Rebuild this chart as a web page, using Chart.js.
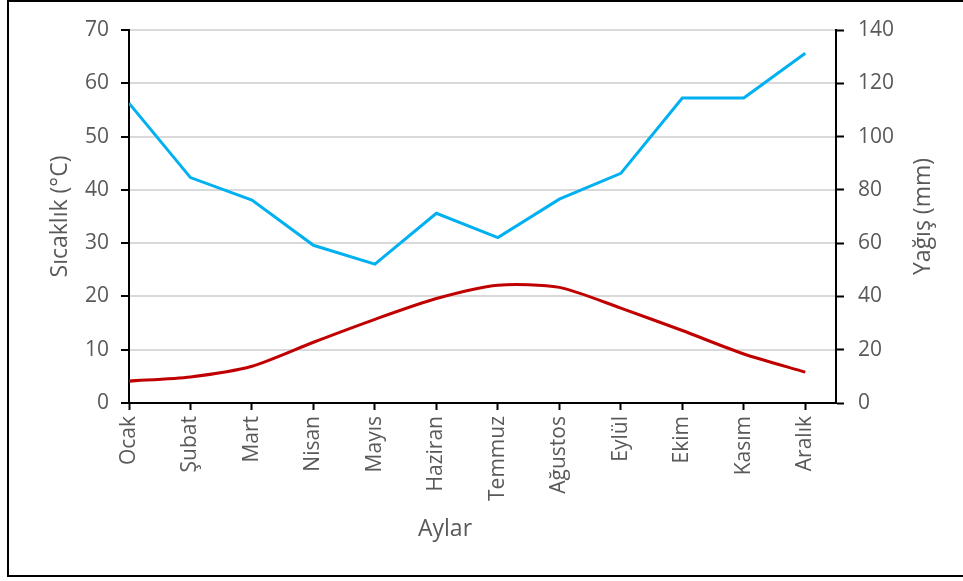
<!DOCTYPE html>
<html>
<head>
<meta charset="utf-8">
<script src="https://cdn.jsdelivr.net/npm/chart.js@4"></script>
<style>
  html, body { margin: 0; padding: 0; background: #fff; }
  #wrap { position: relative; width: 963px; height: 581px; overflow: hidden; }
  #frame { position: absolute; left: 7px; top: 0; width: 1000px; height: 577px;
           border: 2px solid #000; box-sizing: border-box; pointer-events: none; }
  canvas { position: absolute; left: 0; top: 0; }
</style>
</head>
<body>
<div id="wrap">
  <canvas id="grafik" width="963" height="581"></canvas>
  <div id="frame"></div>
</div>
<script>
// Aylar ve değerler
const aylar = ['Ocak', 'Şubat', 'Mart', 'Nisan', 'Mayıs', 'Haziran', 'Temmuz', 'Ağustos', 'Eylül', 'Ekim', 'Kasım', 'Aralık'];
const sicaklik = [4.1, 4.9, 6.9, 11.4, 15.7, 19.6, 22.1, 21.7, 17.8, 13.6, 9.2, 5.8];
const yagis = [112.5, 84.6, 76.2, 59.2, 52.1, 71.2, 62.1, 76.5, 86.2, 114.5, 114.5, 131.3];
const sicaklikTicks = [0, 10, 20, 30, 40, 50, 60, 70];
const yagisTicks = [0, 20, 40, 60, 80, 100, 120, 140];

const gri = '#595959';
const font = { family: 'Open Sans', size: 21 };

// Eksen başlıkları (Excel'deki gibi konumlandırıldı)
const basliklar = {
  id: 'basliklar',
  afterDraw(chart) {
    const ctx = chart.ctx;
    const a = chart.chartArea;
    ctx.save();
    ctx.fillStyle = gri;
    ctx.font = '23px "Open Sans"';
    ctx.textAlign = 'center';
    ctx.textBaseline = 'middle';
    const orta = (a.top + a.bottom) / 2;
    ctx.save();
    ctx.translate(60, orta);
    ctx.rotate(-Math.PI / 2);
    ctx.fillText('Sıcaklık (°C)', 0, 0);
    ctx.restore();
    ctx.save();
    ctx.translate(923, orta);
    ctx.rotate(-Math.PI / 2);
    ctx.fillText('Yağış (mm)', 0, 0);
    ctx.restore();
    ctx.fillText('Aylar', 445, 529);
    ctx.restore();
  }
};

const ctx = document.getElementById('grafik').getContext('2d');
new Chart(ctx, {
  type: 'line',
  data: {
    datasets: [{
      label: 'Yağış (mm)',
      data: yagis.map((v, i) => ({ x: i, y: v })),
      yAxisID: 'y1',
      borderColor: '#00B0F0',
      borderWidth: 3,
      pointRadius: 0,
      tension: 0
    }, {
      label: 'Sıcaklık (°C)',
      data: sicaklik.map((v, i) => ({ x: i, y: v })),
      yAxisID: 'y',
      borderColor: '#C00000',
      borderWidth: 3,
      pointRadius: 0,
      tension: 0.25
    }]
  },
  options: {
    responsive: false,
    animation: false,
    layout: { padding: { top: 30, left: 0, right: 0, bottom: 0 } },
    plugins: { legend: { display: false }, tooltip: { enabled: false } },
    scales: {
      x: {
        type: 'linear',
        min: 0,
        max: 11.5,
        afterBuildTicks: s => { s.ticks = aylar.map((_, i) => ({ value: i })); },
        afterFit: s => { s.height = 178; },
        grid: { drawOnChartArea: false, drawTicks: true, tickLength: 7, tickColor: '#000', tickWidth: 2 },
        border: { color: '#000', width: 2 },
        ticks: {
          autoSkip: false,
          maxRotation: 90,
          minRotation: 90,
          padding: 6,
          color: gri,
          font: font,
          callback: v => aylar[v]
        }
      },
      y: {
        position: 'left',
        min: 0,
        max: 70,
        afterBuildTicks: s => { s.ticks = sicaklikTicks.map(v => ({ value: v })); },
        afterFit: s => { s.width = 129; },
        grid: { color: '#D9D9D9', lineWidth: 2, tickLength: 8, tickColor: '#000', tickWidth: 2 },
        border: { color: '#000', width: 2 },
        ticks: { padding: 12, color: gri, font: font }
      },
      y1: {
        position: 'right',
        min: 0,
        max: 140,
        afterBuildTicks: s => { s.ticks = yagisTicks.map(v => ({ value: v })); },
        afterFit: s => { s.width = 127; },
        grid: { drawOnChartArea: false, tickLength: 8, tickColor: '#000', tickWidth: 2 },
        border: { color: '#000', width: 2 },
        ticks: { padding: 14, color: gri, font: font }
      }
    }
  },
  plugins: [basliklar]
});
</script>
</body>
</html>
